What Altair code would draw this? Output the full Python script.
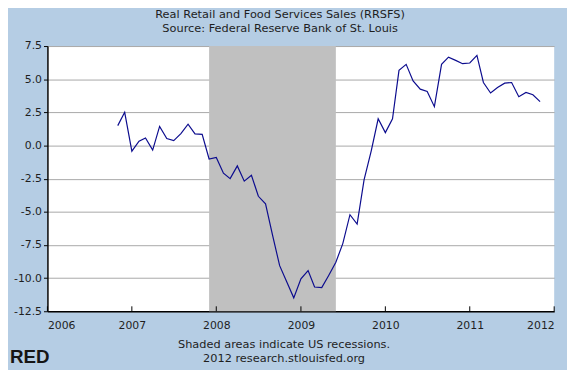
import altair as alt
import pandas as pd

# ---- data ----
months = [
    "2006-11-01", "2006-12-01",
    "2007-01-01", "2007-02-01", "2007-03-01", "2007-04-01", "2007-05-01", "2007-06-01",
    "2007-07-01", "2007-08-01", "2007-09-01", "2007-10-01", "2007-11-01", "2007-12-01",
    "2008-01-01", "2008-02-01", "2008-03-01", "2008-04-01", "2008-05-01", "2008-06-01",
    "2008-07-01", "2008-08-01", "2008-09-01", "2008-10-01", "2008-11-01", "2008-12-01",
    "2009-01-01", "2009-02-01", "2009-03-01", "2009-04-01", "2009-05-01", "2009-06-01",
    "2009-07-01", "2009-08-01", "2009-09-01", "2009-10-01", "2009-11-01", "2009-12-01",
    "2010-01-01", "2010-02-01", "2010-03-01", "2010-04-01", "2010-05-01", "2010-06-01",
    "2010-07-01", "2010-08-01", "2010-09-01", "2010-10-01", "2010-11-01", "2010-12-01",
    "2011-01-01", "2011-02-01", "2011-03-01", "2011-04-01", "2011-05-01", "2011-06-01",
    "2011-07-01", "2011-08-01", "2011-09-01", "2011-10-01", "2011-11-01",
]
values = [
    1.50, 2.50,
    -0.43, 0.32, 0.57, -0.35, 1.44, 0.52,
    0.37, 0.90, 1.61, 0.87, 0.84, -1.02,
    -0.90, -2.09, -2.50, -1.54, -2.69, -2.24,
    -3.83, -4.40, -6.82, -9.06, -10.30, -11.49,
    -10.05, -9.43, -10.67, -10.72, -9.80, -8.80,
    -7.40, -5.22, -5.93, -2.59, -0.40, 2.01,
    0.97, 2.01, 5.67, 6.12, 4.87, 4.25,
    4.07, 2.93, 6.12, 6.66, 6.42, 6.17,
    6.22, 6.79, 4.75, 3.96, 4.37, 4.70,
    4.75, 3.68, 4.00, 3.83, 3.31,
]

recession_start = ["2007-12-01"]
recession_end = ["2009-06-01"]

tick_years = [2006, 2007, 2008, 2009, 2010, 2011, 2012]
tick_dates = ["2006-01-01", "2007-01-01", "2008-01-01", "2009-01-01",
              "2010-01-01", "2011-01-01", "2012-01-01"]
y_ticks = [-12.5, -10.0, -7.5, -5.0, -2.5, 0.0, 2.5, 5.0, 7.5]

title_lines = ["Real Retail and Food Services Sales (RRSFS)",
               "Source: Federal Reserve Bank of St. Louis"]
note_lines = ["Shaded areas indicate US recessions.",
              "2012 research.stlouisfed.org"]
logo_text = ["RED"]

# ---- tables ----
series = pd.DataFrame({"date": months, "value": values})
rec = pd.DataFrame({"start": recession_start, "end": recession_end})
ticks = pd.DataFrame({"year": tick_dates})

PAD_L = 40
W, H = 514, 269
FONT = "DejaVu Sans"
TXT = "#1e1e1e"

x_dom = [alt.DateTime(year=tick_years[0], month=1, date=1, utc=True),
         alt.DateTime(year=tick_years[-1], month=1, date=1, utc=True)]
xscale = alt.Scale(type="utc", domain=x_dom)
xaxis = alt.Axis(
    values=[alt.DateTime(year=y, month=1, date=1, utc=True) for y in tick_years],
    format="%Y", title=None, ticks=False, grid=False,
    domainColor="black", domainWidth=1.5, labelPadding=8,
    labelFont=FONT, labelFontSize=11, labelColor=TXT,
)
yscale = alt.Scale(domain=[y_ticks[0], y_ticks[-1]], nice=False, zero=False)
yaxis = alt.Axis(
    values=y_ticks, title=None, grid=True,
    labelExpr="(datum.value < 0 ? '-' : '') + format(abs(datum.value), '.1f')",
    gridColor="#a8a8a8", gridWidth=1, domainColor="black", domainWidth=1.5,
    tickColor="black", tickSize=4, labelPadding=2,
    labelFont=FONT, labelFontSize=11, labelColor=TXT,
)

shade = alt.Chart(rec).mark_rect(color="#c0c0c0").encode(
    x=alt.X("start:T", scale=xscale, axis=xaxis),
    x2="end:T",
    y=alt.value(0), y2=alt.value(H),
)

line = alt.Chart(series).mark_line(color="#0c0c8e", strokeWidth=1.2).encode(
    x=alt.X("date:T", scale=xscale, axis=xaxis),
    y=alt.Y("value:Q", scale=yscale, axis=yaxis),
)

inner_ticks = alt.Chart(ticks).mark_rule(color="black", strokeWidth=1).encode(
    x=alt.X("year:T", scale=xscale, axis=xaxis),
    y=alt.value(H - 5), y2=alt.value(H),
)


def text_layer(txt, x, y, size=11.5, weight="normal", align="center", font=FONT, color=TXT):
    return alt.Chart(pd.DataFrame({"t": [txt]})).mark_text(
        font=font, fontSize=size, fontWeight=weight, align=align,
        baseline="middle", color=color,
    ).encode(text="t:N", x=alt.value(x), y=alt.value(y))


cx_title = 276 - PAD_L
cx_note = 280 - PAD_L
t1 = text_layer(title_lines[0], cx_title, -31)
t2 = text_layer(title_lines[1], cx_title, -17)
n1 = text_layer(note_lines[0], cx_note, 303)
n2 = text_layer(note_lines[1], cx_note, 317)
logo = text_layer(logo_text[0], 2 - PAD_L, 315, size=19, weight="bold", align="left",
                  font="Liberation Sans", color="#151515")

chart = alt.layer(shade, line, inner_ticks, t1, t2, n1, n2, logo).properties(
    width=W, height=H,
    autosize=alt.AutoSizeParams(type="none"),
    padding={"left": PAD_L, "top": 36, "right": 13, "bottom": 57},
    background="#b5cde4",
).configure_view(stroke=None, fill="white")

chart.save("out.html", embed_options={"renderer": "svg", "actions": False})
